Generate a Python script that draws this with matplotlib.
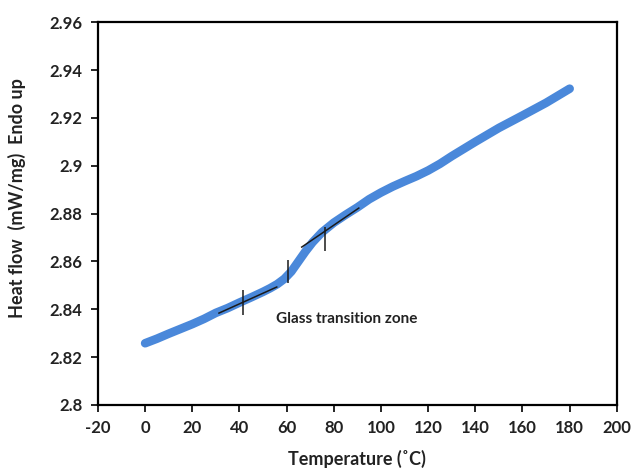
import matplotlib
matplotlib.use("Agg")
import matplotlib.pyplot as plt

# Curve data
temp = [0, 5, 10, 15, 20, 25, 30, 35, 40, 45, 50, 53, 56, 59, 62, 65, 68, 71, 75, 80, 85, 90,
        95, 100, 105, 110, 115, 120, 125, 130, 140, 150, 160, 170, 180]
heat = [2.8258, 2.8277, 2.8298, 2.8318, 2.8338, 2.8360, 2.8385, 2.8405, 2.8428, 2.8450,
        2.8473, 2.8488, 2.8505, 2.8527, 2.8558, 2.8600, 2.8642, 2.8680, 2.8722, 2.8762,
        2.8795, 2.8826, 2.8860, 2.8888, 2.8913, 2.8935, 2.8956, 2.8980, 2.9008, 2.9040,
        2.9100, 2.9158, 2.9210, 2.9263, 2.9322]

# Tangent construction lines
tan1_x = [31.3, 55.8]
tan1_y = [2.8384, 2.8493]
tan2_x = [66.4, 90.6]
tan2_y = [2.8660, 2.8823]
# Vertical marks
mark_x = [41.4, 60.5, 76.3]
mark_lo = [2.8376, 2.8510, 2.8643]
mark_hi = [2.8480, 2.8606, 2.8744]

xticks = [-20, 0, 20, 40, 60, 80, 100, 120, 140, 160, 180, 200]
yticks = [2.8, 2.82, 2.84, 2.86, 2.88, 2.9, 2.92, 2.94, 2.96]
ytick_labels = ["2.8", "2.82", "2.84", "2.86", "2.88", "2.9", "2.92", "2.94", "2.96"]

plt.rcParams['font.family'] = ['Lato', 'DejaVu Sans']

fig = plt.figure(figsize=(6.32, 4.72), dpi=100)
ax = fig.add_axes([0.155, 0.142, 0.821, 0.811])

ax.plot(temp, heat, color='#4A88DA', linewidth=6.2, solid_capstyle='round', zorder=2)
ax.plot(tan1_x, tan1_y, color='#1a1a1a', linewidth=1.1, zorder=3)
ax.plot(tan2_x, tan2_y, color='#1a1a1a', linewidth=1.1, zorder=3)
ax.vlines(mark_x, mark_lo, mark_hi, color='#1a1a1a', linewidth=1.1, zorder=3)

ax.text(55.5, 2.8358, "Glass transition zone", fontsize=11, fontweight='bold',
        ha='left', va='center', color='#222222')

ax.set_xlim(-20, 200)
ax.set_ylim(2.8, 2.96)
ax.set_xticks(xticks)
ax.set_xticklabels([str(t) for t in xticks])
ax.set_yticks(yticks)
ax.set_yticklabels(ytick_labels)

for s in ax.spines.values():
    s.set_linewidth(1.6)
    s.set_color('black')

ax.tick_params(axis='both', direction='out', length=5, width=1.2, labelsize=12,
               colors='black', pad=6)
for lab in ax.get_xticklabels() + ax.get_yticklabels():
    lab.set_fontweight('bold')
    lab.set_color('#222222')

ax.set_xlabel("Temperature (˚C)", fontsize=13, fontweight='bold', color='#222222')
ax.xaxis.set_label_coords(0.5, -0.118)
ax.set_ylabel("Heat flow  (mW/mg)  Endo up", fontsize=13, fontweight='bold',
              color='#222222')
ax.yaxis.set_label_coords(-0.139, 0.54)

fig.savefig("out.png", dpi=100)
